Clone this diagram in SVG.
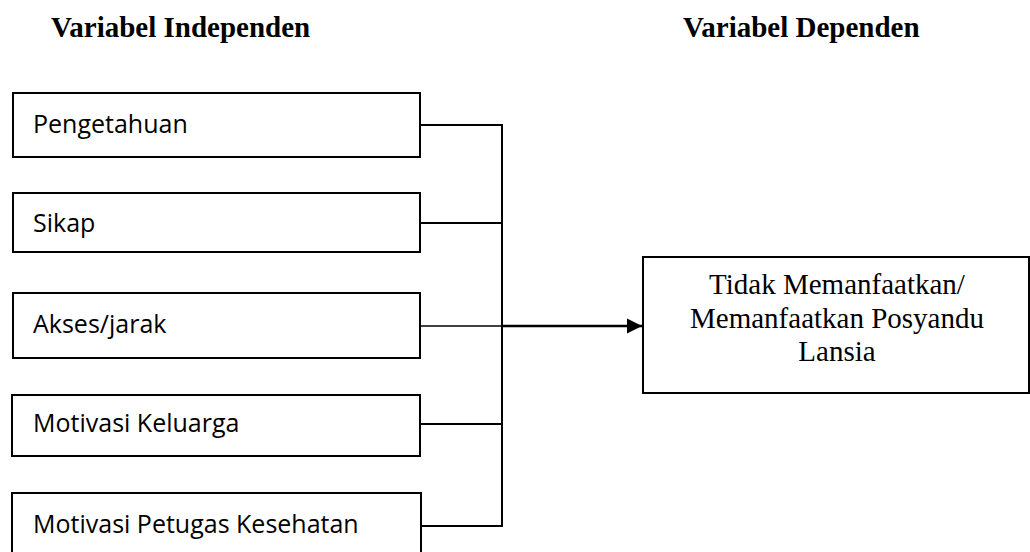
<svg xmlns="http://www.w3.org/2000/svg" width="1030" height="552" viewBox="0 0 1030 552">
  <style>
    .box { fill: #ffffff; stroke: #000000; stroke-width: 2; }
    .lbl { font-family: "Open Sans", "Liberation Sans", sans-serif; font-size: 25px; fill: #000000; }
    .dep { font-family: "Liberation Serif", "Times New Roman", serif; font-size: 29px; fill: #000000; text-anchor: middle; }
    .head { font-family: "Liberation Serif", "Times New Roman", serif; font-size: 29px; font-weight: bold; fill: #000000; }
    .conn { fill: none; stroke: #000000; stroke-width: 2; }
  </style>
  <defs>
    <marker id="arrow" markerUnits="userSpaceOnUse" markerWidth="16" markerHeight="16" refX="15" refY="8" orient="auto">
      <path d="M0,0.5 L15,8 L0,15.5 Z" fill="#000000"/>
    </marker>
  </defs>
  <rect width="1030" height="552" fill="#ffffff"/>

  <g id="headings">
    <text class="head" x="51" y="37">Variabel Independen</text>
    <text class="head" x="683" y="37">Variabel Dependen</text>
  </g>

  <g id="connectors">
    <line class="conn" x1="420" y1="125" x2="502" y2="125"/>
    <line class="conn" x1="420" y1="223" x2="502" y2="223"/>
    <line class="conn" x1="420" y1="326" x2="502" y2="326" style="stroke-width:1.5"/>
    <line class="conn" x1="420" y1="424" x2="502" y2="424"/>
    <line class="conn" x1="421" y1="526" x2="502" y2="526"/>
    <line class="conn" x1="502" y1="124" x2="502" y2="527"/>
    <line class="conn" x1="502" y1="326" x2="642" y2="326" style="stroke-width:2.5" marker-end="url(#arrow)"/>
  </g>

  <g id="node-pengetahuan">
    <rect class="box" x="13" y="93" width="407" height="64"/>
    <text class="lbl" x="33" y="133">Pengetahuan</text>
  </g>
  <g id="node-sikap">
    <rect class="box" x="13" y="193" width="407" height="59"/>
    <text class="lbl" x="33" y="232">Sikap</text>
  </g>
  <g id="node-akses">
    <rect class="box" x="13" y="293" width="407" height="65"/>
    <text class="lbl" x="33" y="333">Akses/jarak</text>
  </g>
  <g id="node-motivasi-keluarga">
    <rect class="box" x="12" y="395" width="408" height="61"/>
    <text class="lbl" x="33" y="432">Motivasi Keluarga</text>
  </g>
  <g id="node-motivasi-petugas">
    <rect class="box" x="12" y="493" width="409" height="64"/>
    <text class="lbl" x="33" y="533">Motivasi Petugas Kesehatan</text>
  </g>

  <g id="node-dependen">
    <rect class="box" x="643" y="257" width="386" height="136"/>
    <text class="dep" x="837" y="294">Tidak Memanfaatkan/</text>
    <text class="dep" x="837" y="328">Memanfaatkan Posyandu</text>
    <text class="dep" x="837" y="361">Lansia</text>
  </g>
</svg>
